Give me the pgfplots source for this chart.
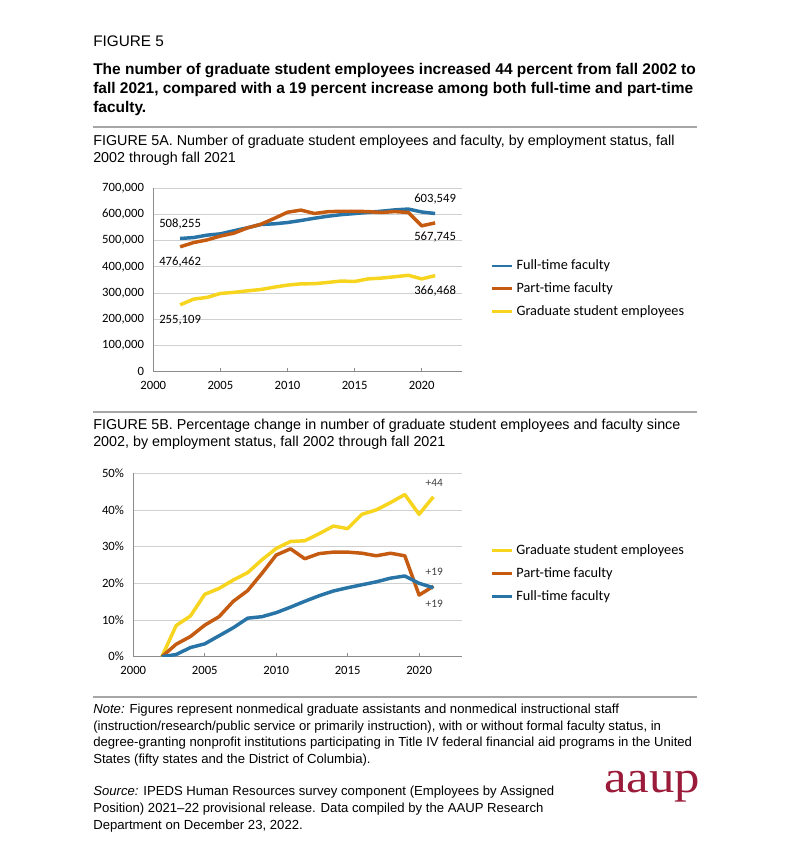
\documentclass[border=0pt]{standalone}
\usepackage{pgfplots}
\pgfplotsset{compat=1.18}
\usepackage{fontspec}
\setmainfont{Liberation Sans}
\newfontfamily\calibri{Carlito}
\newfontfamily\logofont{Liberation Serif}

\definecolor{ftblue}{HTML}{2874A6}
\definecolor{ptorange}{HTML}{C55A11}
\definecolor{gsyellow}{HTML}{F7D41E}
\definecolor{rulegray}{HTML}{A6A6A6}
\definecolor{gridgray}{HTML}{D0D0D0}
\definecolor{axisgray}{HTML}{8C8C8C}
\definecolor{labgray}{HTML}{404040}
\definecolor{aauped}{RGB}{155,28,58}

% counts, fall 2002 through fall 2021
\pgfplotstableread{
year fulltime parttime grad
2002 508255 476462 255109
2003 511800 492660 276790
2004 521000 502670 283430
2005 526000 517440 298480
2006 537700 528400 302560
2007 549000 548400 308430
2008 561600 562230 313530
2009 564200 584620 322460
2010 569200 608440 330370
2011 576900 616540 335210
2012 585500 603670 335720
2013 593100 610350 340570
2014 599200 612250 345930
2015 603300 612250 344140
2016 607900 610820 354090
2017 612400 607490 357150
2018 617500 610820 362250
2019 620600 607490 367870
2020 609400 556500 354090
2021 603549 567745 366468
}\counts

% percentage change since 2002
\pgfplotstableread{
year grad parttime fulltime
2002 0 0 0
2003 8.5 3.4 0.6
2004 11.1 5.5 2.5
2005 17.0 8.6 3.5
2006 18.6 10.9 5.7
2007 20.9 15.1 7.9
2008 22.9 18.0 10.5
2009 26.4 22.7 10.9
2010 29.5 27.7 12.0
2011 31.4 29.4 13.5
2012 31.6 26.7 15.1
2013 33.5 28.1 16.6
2014 35.6 28.5 17.9
2015 34.9 28.5 18.8
2016 38.8 28.2 19.6
2017 40.0 27.5 20.4
2018 42.0 28.2 21.4
2019 44.2 27.5 22.0
2020 38.8 16.8 20.0
2021 43.6 19.2 18.8
}\pct

\pgfplotsset{
  aaupaxis/.style={
    scale only axis,
    axis lines*=left,
    axis line style={axisgray, line width=0.8pt},
    ymajorgrids,
    grid style={gridgray, line width=0.6pt},
    xmin=2000, xmax=2023,
    xtick={2000,2005,...,2020},
    xtick align=inside,
    ytick style={draw=none},
    xtick style={axisgray, line width=0.6pt},
    major tick length=3pt,
    tick label style={font=\calibri\fontsize{9.5}{11}\selectfont, text=black},
    /pgf/number format/assume math mode=true,
    xticklabel style={/pgf/number format/fixed, /pgf/number format/1000 sep={}, yshift=-4pt},
    legend style={draw=none, fill=none, inner sep=0pt,
      font=\calibri\fontsize{10.7}{12}\selectfont, row sep=4.3pt,
      cells={anchor=west}},
    legend cell align=left,
    legend image code/.code={\draw[##1, line width=2.2pt] (0pt,0pt) -- (15pt,0pt);},
    every axis plot/.append style={line width=2.6pt, line join=round},
  },
}

\begin{document}
\begin{tikzpicture}[x=0.75pt, y=0.75pt]
\path[use as bounding box, fill=white] (0,0) rectangle (791,854);

\node[anchor=base west, inner sep=0pt, font=\fontsize{11.5}{13}\selectfont] at (93,807.3) {FIGURE 5};
\begin{scope}[every node/.style={anchor=base west, inner sep=0pt, font=\bfseries\fontsize{11.6}{14}\selectfont}]
\node at (93,779) {The number of graduate student employees increased 44 percent from fall 2002 to};
\node at (93,760) {fall 2021, compared with a 19 percent increase among both full-time and part-time};
\node at (93,741.5) {faculty.};
\end{scope}
\draw[rulegray, line width=2.2pt] (93,727) -- (697,727);

\begin{scope}[every node/.style={anchor=base west, inner sep=0pt, font=\fontsize{10.75}{12}\selectfont}]
\node at (93,708) {FIGURE 5A. Number of graduate student employees and faculty, by employment status, fall};
\node at (93,691) {2002 through fall 2021};
\node at (93,424) {FIGURE 5B. Percentage change in number of graduate student employees and faculty since};
\node at (93,407) {2002, by employment status, fall 2002 through fall 2021};
\end{scope}
\begin{scope}[every node/.style={anchor=base west, inner sep=0pt, font=\fontsize{9.85}{12}\selectfont}]
\node at (93,140) {\textit{Note:} Figures represent nonmedical graduate assistants and nonmedical instructional staff};
\node at (93,123.5) {(instruction/research/public service or primarily instruction), with or without formal faculty status, in};
\node at (93,107) {degree-granting nonprofit institutions participating in Title IV federal financial aid programs in the United};
\node at (93,90.5) {States (fifty states and the District of Columbia).};
\node at (93,58) {\textit{Source:} IPEDS Human Resources survey component (Employees by Assigned};
\node at (93,41.5) {Position) 2021--22 provisional release. Data compiled by the AAUP Research};
\node at (93,25) {Department on December 23, 2022.};
\end{scope}
\draw[rulegray, line width=2.2pt] (93,442) -- (697,442);
\draw[rulegray, line width=2.2pt] (93,157) -- (697,157);

\node[anchor=base west, inner sep=0pt, text=aauped, font=\logofont\fontsize{34}{34}\selectfont, xscale=1.12] at (604,61) {aaup};

\coordinate (topSW) at (153.3,482.3);
\coordinate (botSW) at (133.3,197.3);

% FIGURE 5A
\begin{axis}[aaupaxis,
  at={(topSW)}, anchor=south west,
  width=231.5pt, height=137.6pt,
  ymin=0, ymax=700000,
  ytick={0,100000,...,700000},
  scaled y ticks=false,
  yticklabel style={/pgf/number format/fixed, /pgf/number format/1000 sep={,}, xshift=-3.5pt},
  legend style={at={(1.093,0.451)}, anchor=west},
]
\addplot[ftblue] table[x=year, y=fulltime] {\counts};
\addlegendentry{Full-time faculty}
\addplot[ptorange] table[x=year, y=parttime] {\counts};
\addlegendentry{Part-time faculty}
\addplot[gsyellow] table[x=year, y=grad] {\counts};
\addlegendentry{Graduate student employees}
\begin{scope}[every node/.style={font=\calibri\fontsize{9.5}{11}\selectfont, text=black}]
\node at (axis cs:2002,563700) {508,255};
\node at (axis cs:2002,418700) {476,462};
\node at (axis cs:2002,197300) {255,109};
\node at (axis cs:2021,659200) {603,549};
\node at (axis cs:2021,514100) {567,745};
\node at (axis cs:2021,308000) {366,468};
\end{scope}
\end{axis}

% FIGURE 5B
\begin{axis}[aaupaxis,
  at={(botSW)}, anchor=south west,
  width=246.5pt, height=137.6pt,
  ymin=0, ymax=50,
  ytick={0,10,...,50},
  yticklabels={0\%,10\%,20\%,30\%,40\%,50\%},
  yticklabel style={xshift=-3.5pt},
  legend style={at={(1.087,0.455)}, anchor=west},
]
\addplot[gsyellow] table[x=year, y=grad] {\pct};
\addlegendentry{Graduate student employees}
\addplot[ptorange] table[x=year, y=parttime] {\pct};
\addlegendentry{Part-time faculty}
\addplot[ftblue] table[x=year, y=fulltime] {\pct};
\addlegendentry{Full-time faculty}
\begin{scope}[every node/.style={font=\calibri\fontsize{8.5}{10}\selectfont, text=labgray}]
\node at (axis cs:2021.06,47.4) {+44};
\node at (axis cs:2021.06,23.0) {+19};
\node at (axis cs:2021.06,14.4) {+19};
\end{scope}
\end{axis}
\end{tikzpicture}
\end{document}
